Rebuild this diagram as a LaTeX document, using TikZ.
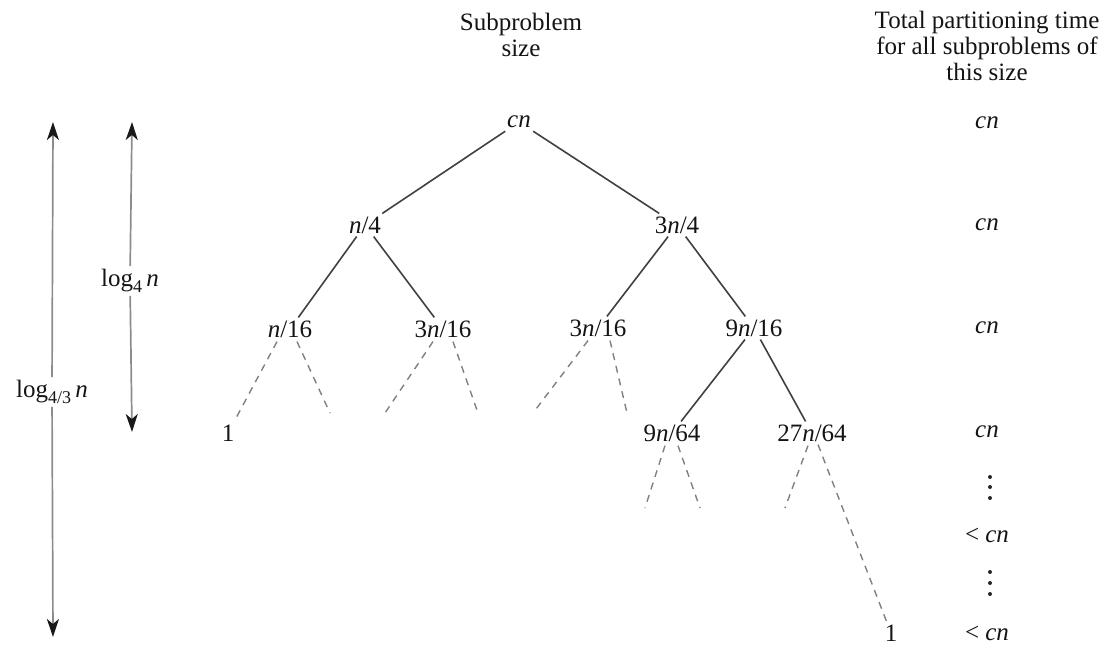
\documentclass[tikz,border=0pt]{standalone}
\usepackage{fontspec}
\setmainfont{Liberation Serif}
\usetikzlibrary{arrows.meta}
\begin{document}
\begin{tikzpicture}[x=1pt,y=-1pt,
  every node/.style={font=\fontsize{25}{23.5}\selectfont, text=black!92, inner sep=3pt},
  hdr/.style={align=center, font=\fontsize{25}{26}\selectfont},
  edge/.style={draw=black!75, line width=1.6pt},
  dedge/.style={draw=black!50, line width=1.4pt, dash pattern=on 7pt off 6pt},
  arr/.style={draw=black!45, line width=1.7pt, -{Stealth[length=18pt,width=12pt,inset=5pt,color=black!90]}},
  dotc/.style={fill=black!85}]
\useasboundingbox (0,0) rectangle (1111,648);
% headers
\node[hdr] (h1) at (521,35) {Subproblem\\size};
\node[hdr] (h2) at (987,46) {Total partitioning time\\for all subproblems of\\this size};
% tree
\node (r) at (519,122) {\textit{cn}};
\node (a) at (365,225) {\textit{n}/4};
\node (b) at (677,225) {3\textit{n}/4};
\node (aa) at (290,329) {\textit{n}/16};
\node (ab) at (443,329) {3\textit{n}/16};
\node (ba) at (598,328) {3\textit{n}/16};
\node (bb) at (754,328) {9\textit{n}/16};
\node (one1) at (228,433) {1};
\node (bba) at (672,433) {9\textit{n}/64};
\node (bbb) at (812,433) {27\textit{n}/64};
\node (one2) at (891,633) {1};
\draw[edge] (r) -- (a);
\draw[edge] (r) -- (b);
\draw[edge] (a) -- (aa);
\draw[edge] (a) -- (ab);
\draw[edge] (b) -- (ba);
\draw[edge] (b) -- (bb);
\draw[edge] (bb) -- (bba);
\draw[edge] (bb) -- (bbb);
% dashed continuations
\coordinate (aa2) at (330,413);
\coordinate (ab1) at (385,413);
\coordinate (ab2) at (478,413);
\coordinate (ba1) at (533,413);
\coordinate (ba2) at (627,413);
\coordinate (bba1) at (645,508);
\coordinate (bba2) at (700,508);
\coordinate (bbb1) at (785,508);
\draw[dedge] (aa.south) ++(-13,1) -- (one1);
\draw[dedge] (aa.south) ++(7,1) -- (aa2);
\draw[dedge] (ab.south) ++(-10,1) -- (ab1);
\draw[dedge] (ab.south) ++(10,1) -- (ab2);
\draw[dedge] (ba.south) ++(-10,1) -- (ba1);
\draw[dedge] (ba.south) ++(12,1) -- (ba2);
\draw[dedge] (bba.south) ++(-7,1) -- (bba1);
\draw[dedge] (bba.south) ++(6,1) -- (bba2);
\draw[dedge] (bbb.south) ++(-4,1) -- (bbb1);
\draw[dedge] (bbb.south) ++(6,0) -- (one2);
% right column
\node (c0) at (987,123) {\textit{cn}};
\node (c1) at (987,225) {\textit{cn}};
\node (c2) at (987,328) {\textit{cn}};
\node (c3) at (987,432) {\textit{cn}};
\node (c4) at (987,535) {< \textit{cn}};
\node (c5) at (987,633) {< \textit{cn}};
\foreach \y in {477,487,498,572,583,594} \fill[dotc] (990,\y) circle (2);
% height arrows
\node (l1) at (52,392) {log\raisebox{-6pt}{\fontsize{18}{18}\selectfont 4/3}\,\textit{n}};
\coordinate (l1t) at (53,122);
\coordinate (l1b) at (53,637);
\draw[arr] (l1) -- (l1t);
\draw[arr] (l1) -- (l1b);
\node (l2) at (130,281) {log\raisebox{-6pt}{\fontsize{18}{18}\selectfont 4}\,\textit{n}};
\coordinate (l2t) at (132,122);
\coordinate (l2b) at (132,432);
\draw[arr] (l2) -- (l2t);
\draw[arr] (l2) -- (l2b);
\end{tikzpicture}
\end{document}
